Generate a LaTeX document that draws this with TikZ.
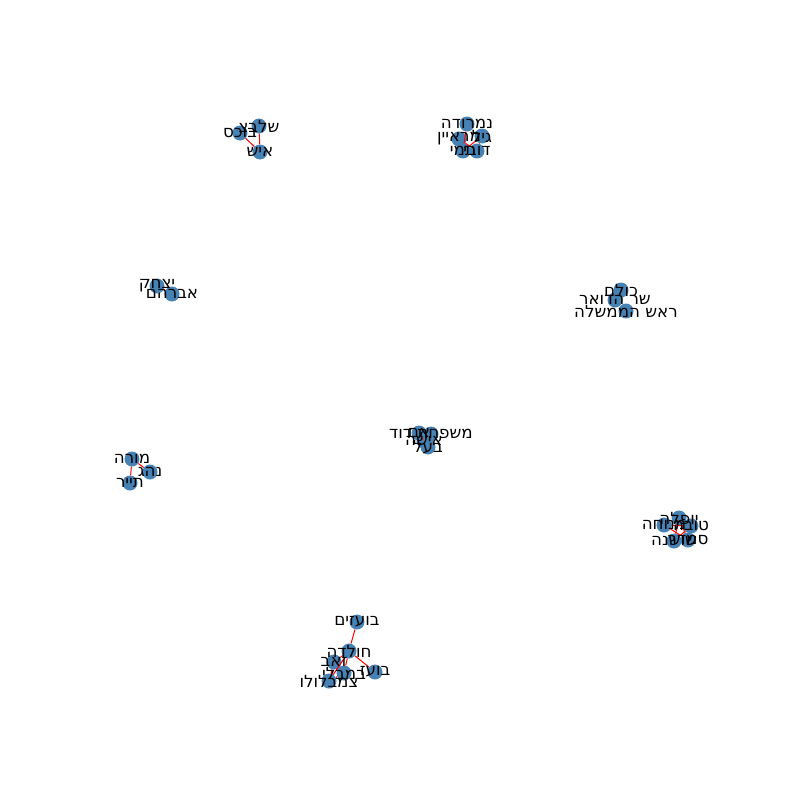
\documentclass[tikz,border=0pt]{standalone}
\usepackage{fontspec}
\TeXXeTstate=1
\newfontfamily\hebfont[Script=Hebrew]{DejaVu Sans}
\definecolor{steelblue}{RGB}{70,130,180}
\newcommand{\heb}[1]{\beginR #1\endR}
\tikzset{
  person/.style={circle, fill=steelblue, minimum size=15pt, inner sep=0pt},
  tie/.style={red, line width=1pt},
  who/.style={font=\hebfont\fontsize{16.7}{20}\selectfont, text=black, inner sep=0pt}
}
\begin{document}
\begin{tikzpicture}[x=1pt, y=-1pt]
	\fill[white] (0,0) rectangle (800,800);
	\useasboundingbox (0,0) rectangle (800,800);

	% top left group
	\node[person] (a1) at (240,133) {};
	\node[person] (a2) at (259,126) {};
	\node[person] (a3) at (260,152) {};
	% top middle group
	\node[person] (b1) at (467,124) {};
	\node[person] (b2) at (482,136) {};
	\node[person] (b3) at (459,139) {};
	\node[person] (b4) at (463,151) {};
	\node[person] (b5) at (477,151) {};
	% right group
	\node[person] (c1) at (621,290) {};
	\node[person] (c2) at (615,300) {};
	\node[person] (c3) at (626,311) {};
	% left group
	\node[person] (d1) at (157,286) {};
	\node[person] (d2) at (172,294) {};
	% middle group
	\node[person] (e1) at (419,433) {};
	\node[person] (e2) at (431,434) {};
	\node[person] (e3) at (424,441) {};
	\node[person] (e4) at (428,447) {};
	% lower left group
	\node[person] (f1) at (132,459) {};
	\node[person] (f2) at (150,472) {};
	\node[person] (f3) at (130,483) {};
	% lower right group
	\node[person] (g1) at (679,518) {};
	\node[person] (g2) at (664,525) {};
	\node[person] (g3) at (691,526) {};
	\node[person] (g4) at (674,541) {};
	\node[person] (g5) at (688,540) {};
	% bottom group
	\node[person] (h1) at (357,622) {};
	\node[person] (h2) at (349,651) {};
	\node[person] (h3) at (334,662) {};
	\node[person] (h4) at (344,673) {};
	\node[person] (h5) at (375,672) {};
	\node[person] (h6) at (329,681) {};

	\draw[tie] (a1) -- (a3);
	\draw[tie] (a2) -- (a3);
	\draw[tie] (b1) -- (b4);
	\draw[tie] (b3) -- (b5);
	\draw[tie] (b2) -- (b4);
	\draw[tie] (b2) -- (b5);
	\draw[tie] (d1) -- (d2);
	\draw[tie] (e1) -- (e3);
	\draw[tie] (f1) -- (f2);
	\draw[tie] (f1) -- (f3);
	\draw[tie] (g2) -- (g5);
	\draw[tie] (g3) -- (g4);
	\draw[tie] (g1) -- (g4);
	\draw[tie] (g1) -- (g5);
	\draw[tie] (g2) -- (g3);
	\draw[tie] (h1) -- (h2);
	\draw[tie] (h2) -- (h3);
	\draw[tie] (h2) -- (h4);
	\draw[tie] (h2) -- (h5);
	\draw[tie] (h2) -- (h6);
	\draw[tie] (h3) -- (h4);
	\draw[tie] (h3) -- (h6);
	\draw[tie] (h4) -- (h6);

	\node[who] (a1-name) at (a1) {\heb{בוכס}};
	\node[who] (a2-name) at (a2) {\heb{שלבצ}};
	\node[who] (a3-name) at (a3) {\heb{איש}};
	\node[who] (b1-name) at (b1) {\heb{נמרודה}};
	\node[who] (b2-name) at (b2) {\heb{גיל}};
	\node[who] (b3-name) at (b3) {\heb{מראיין}};
	\node[who] (b4-name) at (b4) {\heb{תמי}};
	\node[who] (b5-name) at (b5) {\heb{דובי}};
	\node[who] (c1-name) at (c1) {\heb{כולם}};
	\node[who] (c2-name) at (c2) {\heb{שר הדואר}};
	\node[who] (c3-name) at (c3) {\heb{ראש הממשלה}};
	\node[who] (d1-name) at (d1) {\heb{יצחק}};
	\node[who] (d2-name) at (d2) {\heb{אברהם}};
	\node[who] (e1-name) at (e1) {\heb{אם}};
	\node[who] (e2-name) at (e2) {\heb{משפחת דוד}};
	\node[who] (e3-name) at (e3) {\heb{אישה}};
	\node[who] (e4-name) at (e4) {\heb{בעל}};
	\node[who] (f1-name) at (f1) {\heb{מורה}};
	\node[who] (f2-name) at (f2) {\heb{נהג}};
	\node[who] (f3-name) at (f3) {\heb{תייר}};
	\node[who] (g1-name) at (g1) {\heb{יופלה}};
	\node[who] (g2-name) at (g2) {\heb{מנוחה}};
	\node[who] (g3-name) at (g3) {\heb{טובה}};
	\node[who] (g4-name) at (g4) {\heb{שושנה}};
	\node[who] (g5-name) at (g5) {\heb{סמדר}};
	\node[who] (h1-name) at (h1) {\heb{בועזים}};
	\node[who] (h2-name) at (h2) {\heb{חולדה}};
	\node[who] (h3-name) at (h3) {\heb{זאב}};
	\node[who] (h4-name) at (h4) {\heb{במבלי}};
	\node[who] (h5-name) at (h5) {\heb{בועז}};
	\node[who] (h6-name) at (h6) {\heb{צמבלולו}};
\end{tikzpicture}
\end{document}
